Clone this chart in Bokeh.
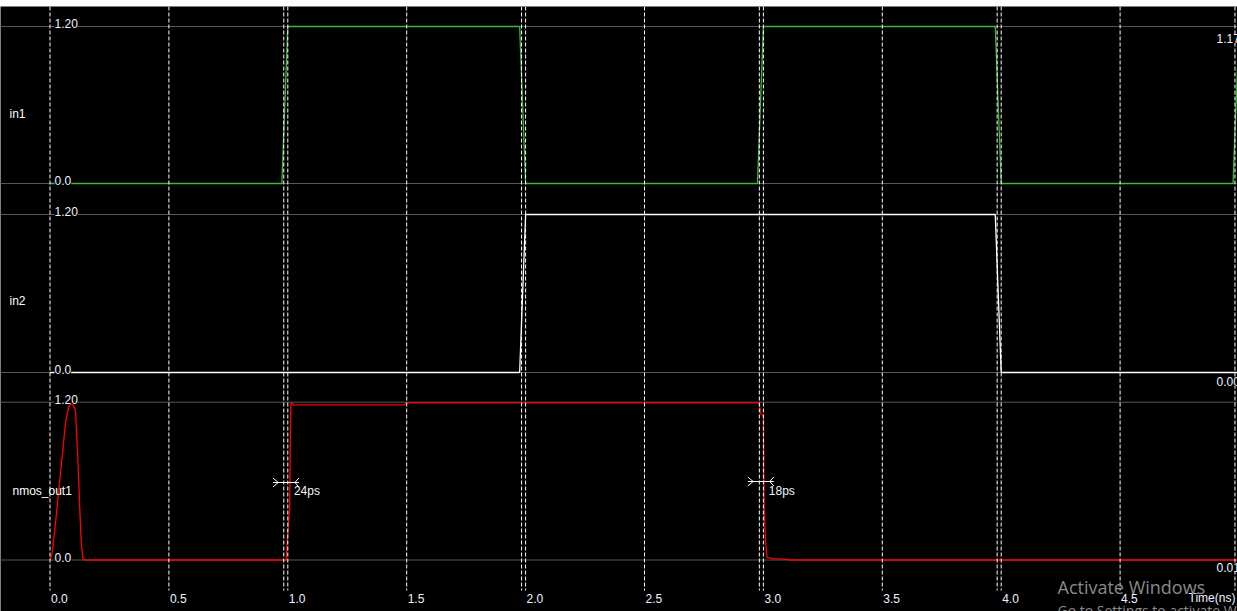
from bokeh.plotting import figure
from bokeh.models import Range1d, ColumnDataSource, LabelSet
from bokeh.core.properties import value
from bokeh.embed import file_html
from bokeh.resources import INLINE

# ---------------- data ----------------
in1_t = [0.0, 0.975, 1.0, 1.975, 2.0, 2.975, 3.0, 3.975, 4.0, 4.975, 5.0]
in1_v = [0.0, 0.0, 1.2, 1.2, 0.0, 0.0, 1.2, 1.2, 0.0, 0.0, 1.2]

in2_t = [0.0, 1.975, 2.0, 3.975, 4.0, 5.0]
in2_v = [0.0, 0.0, 1.2, 1.2, 0.0, 0.0]

out_t = [0.0, 0.009, 0.023, 0.037, 0.051, 0.065, 0.079, 0.093, 0.107, 0.117,
         0.125, 0.131, 0.138, 0.145, 0.993, 1.0, 1.008, 1.011, 1.013, 1.021,
         1.025, 1.03, 1.49, 1.5, 2.982, 2.99, 3.0, 3.003, 3.009, 3.015,
         3.04, 3.1, 3.11, 5.0]
out_v = [0.0, 0.05, 0.28, 0.53, 0.78, 1.04, 1.17, 1.19, 1.14, 0.78,
         0.40, 0.15, 0.01, 0.0, 0.0, 0.2, 0.4, 1.0, 1.19, 1.19,
         1.175, 1.18, 1.18, 1.195, 1.195, 1.11, 1.1, 0.4, 0.15, 0.02,
         0.01, 0.005, 0.0, 0.0]

signal_names = ["in1", "in2", "nmos_out1"]
y_tick_vals = [0.0, 1.2]
y_tick_text = ["0.0", "1.20"]
x_ticks = [0.0, 0.5, 1.0, 1.5, 2.0, 2.5, 3.0, 3.5, 4.0, 4.5]
x_tick_text = ["0.0", "0.5", "1.0", "1.5", "2.0", "2.5", "3.0", "3.5", "4.0", "4.5"]
cursor_t = [0.983, 1.983, 2.983, 3.983, 4.983]
cursor_readouts = ["1.17", "0.00", "0.01"]
meas_t = [0.992, 2.989]
meas_text = ["24ps", "18ps"]

# ---------------- layout constants ----------------
W, H = 1237, 605
TOP = 6
PX_PER_NS = 237.8
X0_PX = 49.5
D = 1.0 / PX_PER_NS
# pixel rows (reference y) of value 0 and 1.2 in each panel
panel_rows = {"in1": (183.0, 26.0), "in2": (372.0, 214.0), "out": (559.5, 401.7)}
FONT = value("Liberation Sans")
TXT = "#eef3ff"

p = figure(width=W, height=H,
           x_range=Range1d(-X0_PX / PX_PER_NS, (W - X0_PX) / PX_PER_NS),
           y_range=Range1d(TOP + H, TOP),
           output_backend="svg", toolbar_location=None,
           x_axis_type=None, y_axis_type=None, min_border=0,
           border_fill_color="black", background_fill_color="black",
           outline_line_color=None, margin=(6, 0, 0, 0))

extra_y = {}
for name, (y0, y1) in panel_rows.items():
    s = (y0 - y1) / 1.2
    extra_y[name] = Range1d((y0 - (TOP + H)) / s, (y0 - TOP) / s)
p.extra_y_ranges = extra_y
p.extra_x_ranges = {"px": Range1d(0, W)}

# horizontal gray reference lines
for name in panel_rows:
    p.segment(x0=-1, x1=6, y0=y_tick_vals, y1=y_tick_vals, y_range_name=name,
              line_color="#575757", line_width=1)

# signals
p.line(in1_t, in1_v, y_range_name="in1", line_color="#3cb83c", line_width=1.3)
p.line(in2_t, in2_v, y_range_name="in2", line_color="white", line_width=1.3)
p.line(out_t, out_v, y_range_name="out", line_color="red", line_width=1.3)

# dashed vertical grid + cursor lines
vt = x_ticks + cursor_t
p.segment(x0=vt, x1=vt, y0=TOP, y1=590, line_color="white", line_width=1,
          line_dash="4 2")

# measurement markers
xs, ys = [], []
for t, y in zip(meas_t, [482, 481]):
    xs += [[t - 13 * D, t + 13 * D],
           [t - 13 * D, t - 7.6 * D, t - 13 * D],
           [t + 13 * D, t + 9 * D, t + 13 * D]]
    ys += [[y, y], [y - 4.5, y, y + 4.5], [y - 4.5, y, y + 4.5]]
p.multi_line(xs, ys, line_color="white", line_width=1)
p.text(x=[t + 8 * D for t in meas_t], y=[490.5, 490], text=meas_text,
       text_font=FONT, text_font_size="12px", text_color=TXT,
       text_baseline="middle", text_align="left")

# left tick labels per panel
for name in panel_rows:
    src = ColumnDataSource(dict(x=[54, 54], y=y_tick_vals, t=y_tick_text))
    p.add_layout(LabelSet(x="x", y="y", text="t", source=src, x_range_name="px",
                          y_range_name=name, y_offset=3, text_font=FONT,
                          text_font_size="12px", text_color=TXT,
                          text_baseline="middle", text_align="left",
                          background_fill_color="black"))

# right cursor readouts
src_r = ColumnDataSource(dict(x=[1216, 1216, 1216], y=[38, 381, 567], t=cursor_readouts))
p.add_layout(LabelSet(x="x", y="y", text="t", source=src_r, x_range_name="px",
                      text_font=FONT, text_font_size="12px", text_color=TXT,
                      text_baseline="middle", text_align="left",
                      background_fill_color="black"))

# signal names
p.text(x=[9, 9, 12], y=[113, 300, 490], text=signal_names, x_range_name="px",
       text_font=FONT, text_font_size="12px", text_color="white",
       text_baseline="middle", text_align="left")

# x tick labels
p.text(x=x_ticks, y=[598] * len(x_ticks), text=x_tick_text, x_offset=1,
       text_font=FONT, text_font_size="12px", text_color=TXT,
       text_baseline="middle", text_align="left")
p.text(x=[1188], y=[597], text=["Time(ns)"], x_range_name="px",
       text_font=FONT, text_font_size="12px", text_color=TXT,
       text_baseline="middle", text_align="left")

# OS watermark visible in the screenshot
p.text(x=[1057], y=[586], text=["Activate Windows"], x_range_name="px",
       text_font=value("Open Sans"), text_font_size="18px", text_color="#8a8a8a",
       text_baseline="middle", text_align="left")
p.text(x=[1057], y=[600], text=["Go to Settings to activate Windows."], x_range_name="px",
       text_font=value("Open Sans"), text_font_size="14px", text_color="#8a8a8a",
       text_baseline="top", text_align="left")

open("out.html", "w").write(file_html(p, INLINE))
